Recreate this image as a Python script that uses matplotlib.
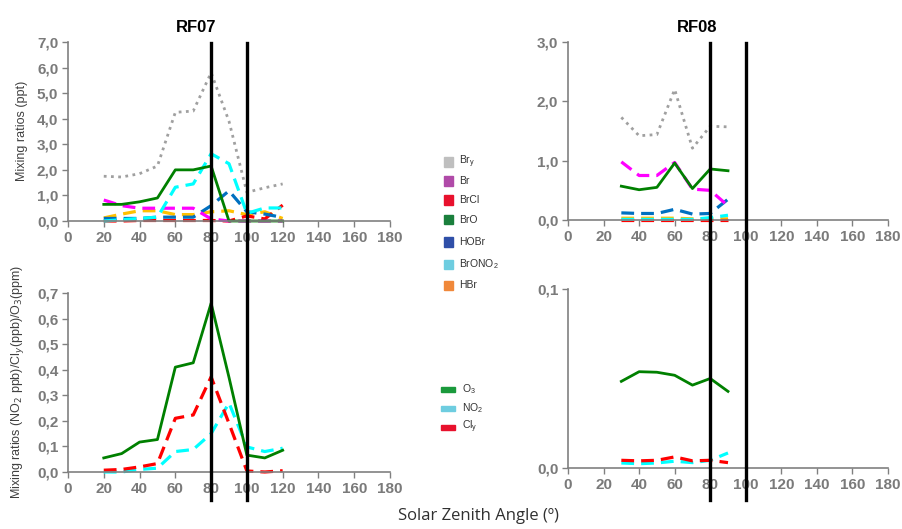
import matplotlib
matplotlib.use("Agg")
import matplotlib.pyplot as plt
from matplotlib.lines import Line2D
from matplotlib.patches import Rectangle
from matplotlib.transforms import blended_transform_factory

# ---- data ----
sza07 = [20, 30, 40, 50, 60, 70, 80, 90, 100, 110, 120]
bry07 = [1.75, 1.72, 1.85, 2.15, 4.25, 4.3, 5.8, 3.9, 1.12, 1.3, 1.45]
br07 = [0.82, 0.6, 0.5, 0.5, 0.5, 0.5, 0.08, 0.0, 0.0, 0.0, 0.0]
brcl07 = [0.0, 0.0, 0.02, 0.02, 0.02, 0.02, 0.02, 0.0, 0.2, 0.08, 0.62]
bro07 = [0.65, 0.65, 0.75, 0.9, 2.0, 2.0, 2.15, 0.0, 0.0, 0.0, 0.0]
hobr07 = [0.1, 0.1, 0.1, 0.15, 0.15, 0.15, 0.6, 1.18, 0.36, 0.27, 0.14]
brono2_07 = [0.0, 0.05, 0.1, 0.15, 1.32, 1.45, 2.63, 2.24, 0.3, 0.51, 0.51]
hbr07 = [0.12, 0.27, 0.4, 0.4, 0.25, 0.25, 0.36, 0.4, 0.25, 0.36, 0.1]

o3_07 = [0.055, 0.072, 0.117, 0.127, 0.41, 0.427, 0.66, 0.37, 0.066, 0.055, 0.085]
no2_07 = [0.0, 0.0, 0.01, 0.015, 0.08, 0.088, 0.15, 0.27, 0.098, 0.08, 0.093]
cly07 = [0.007, 0.01, 0.02, 0.033, 0.21, 0.223, 0.372, 0.19, 0.004, 0.0, 0.005]

sza08 = [30, 40, 50, 60, 70, 80, 90]
bry08 = [1.73, 1.42, 1.44, 2.2, 1.21, 1.58, 1.57]
br08 = [0.98, 0.75, 0.75, 0.97, 0.52, 0.5, 0.24]
brcl08 = [0.0, 0.0, 0.0, 0.0, 0.0, 0.0, 0.0]
bro08 = [0.57, 0.51, 0.55, 0.96, 0.53, 0.86, 0.83]
hobr08 = [0.12, 0.11, 0.11, 0.18, 0.1, 0.11, 0.35]
brono2_08 = [0.01, 0.01, 0.01, 0.01, 0.01, 0.04, 0.08]
hbr08 = [0.03, 0.03, 0.03, 0.03, 0.02, 0.02, 0.02]

o3_08 = [0.0484, 0.0538, 0.0535, 0.0518, 0.0463, 0.050, 0.0428]
no2_08 = [0.0028, 0.0024, 0.0028, 0.0038, 0.003, 0.0043, 0.0084]
cly08 = [0.0043, 0.004, 0.0043, 0.0062, 0.004, 0.0043, 0.003]

xticks = [0, 20, 40, 60, 80, 100, 120, 140, 160, 180]
sza_marks = [80, 100]

plt.rcParams['font.family'] = ['Liberation Sans', 'DejaVu Sans']

fig = plt.figure(figsize=(9.02, 5.29), dpi=100)
W, H = 902, 529


def make_ax(x0, x1, ytop, ybot):
    return fig.add_axes([x0 / W, 1 - ybot / H, (x1 - x0) / W, (ybot - ytop) / H])


ax_tl = make_ax(68, 390, 42, 221)
ax_tr = make_ax(568, 888, 42, 220)
ax_bl = make_ax(68, 390, 293, 472)
ax_br = make_ax(568, 888, 289, 468)

tick_col = '#7a7a7a'


def style(ax, ymax, yticks, fmt):
    ax.set_xlim(0, 180)
    ax.set_ylim(0, ymax)
    for s in ['top', 'right']:
        ax.spines[s].set_visible(False)
    for s in ['left', 'bottom']:
        ax.spines[s].set_color('#808080')
        ax.spines[s].set_linewidth(1.2)
    ax.set_xticks(xticks)
    ax.set_yticks(yticks)
    ax.set_yticklabels([fmt.format(v).replace('.', ',') for v in yticks])
    ax.tick_params(axis='both', colors='#808080', labelcolor=tick_col,
                   labelsize=11, length=4, width=1, pad=3)
    for lab in ax.get_xticklabels() + ax.get_yticklabels():
        lab.set_fontweight('bold')
    ax.set_facecolor('none')


style(ax_tl, 7.0, [0, 1, 2, 3, 4, 5, 6, 7], '{:.1f}')
style(ax_tr, 3.0, [0, 1, 2, 3], '{:.1f}')
style(ax_bl, 0.7, [0, 0.1, 0.2, 0.3, 0.4, 0.5, 0.6, 0.7], '{:.1f}')
style(ax_br, 0.1, [0, 0.1], '{:.1f}')

# top panels: bromine species
c_bry, c_br, c_brcl, c_bro = '#a0a0a0', '#ff00ff', '#ff0000', '#008000'
c_hobr, c_brono2, c_hbr = '#0070c0', '#00ffff', '#ffc000'
dash = (0, (4, 2.2))
for ax, x, d in [(ax_tl, sza07, (bry07, br07, brcl07, bro07, hobr07, brono2_07, hbr07)),
                 (ax_tr, sza08, (bry08, br08, brcl08, bro08, hobr08, brono2_08, hbr08))]:
    bry, br, brcl, bro, hobr, brono2, hbr = d
    ax.plot(x, hbr, color=c_hbr, lw=2.3, ls=dash, clip_on=False)
    ax.plot(x, brcl, color=c_brcl, lw=2.3, ls=dash, clip_on=False)
    ax.plot(x, hobr, color=c_hobr, lw=2.3, ls=dash, clip_on=False)
    ax.plot(x, br, color=c_br, lw=2.3, ls=dash, clip_on=False)
    ax.plot(x, brono2, color=c_brono2, lw=2.3, ls=dash, clip_on=False)
    ax.plot(x, bro, color=c_bro, lw=2.0, clip_on=False)
    ax.plot(x, bry, color=c_bry, lw=2.0, ls=(0, (1, 1.6)), clip_on=False)

# bottom panels: O3, NO2, Cly
for ax, x, o3, no2, cly in [(ax_bl, sza07, o3_07, no2_07, cly07),
                            (ax_br, sza08, o3_08, no2_08, cly08)]:
    ax.plot(x, no2, color=c_brono2, lw=2.3, ls=dash, clip_on=False)
    ax.plot(x, cly, color=c_brcl, lw=2.3, ls=dash, clip_on=False)
    ax.plot(x, o3, color=c_bro, lw=2.0, clip_on=False)

# vertical markers spanning both panels
for ax in [ax_tl, ax_tr]:
    tr = blended_transform_factory(ax.transData, fig.transFigure)
    for v in sza_marks:
        fig.add_artist(Line2D([v, v], [1 - 43 / H, 1 - 500 / H], transform=tr,
                              color='black', lw=2.4, zorder=5))

# titles and labels
fig.text(196 / W, 1 - 27 / H, 'RF07', ha='center', va='center',
         fontsize=12, fontweight='bold')
fig.text(697 / W, 1 - 27 / H, 'RF08', ha='center', va='center',
         fontsize=12, fontweight='bold')
fig.text(22 / W, 1 - 131 / H, 'Mixing ratios (ppt)', rotation=90,
         ha='center', va='center', fontsize=9, color='#404040')
fig.text(18 / W, 1 - 382 / H,
         'Mixing ratios (NO$_2$ ppb)/Cl$_y$(ppb)/O$_3$(ppm)', rotation=90,
         ha='center', va='center', fontsize=9, color='#404040')
fig.text(478 / W, 1 - 516 / H, 'Solar Zenith Angle (º)', ha='center',
         va='center', fontsize=12, color='#303030', family=['Open Sans', 'DejaVu Sans'])

# legends
leg_top = [('Br$_\\mathregular{y}$', '#bfbfbf', 162), ('Br', '#b04aa8', 181),
           ('BrCl', '#e8112d', 200), ('BrO', '#1a7f3c', 220),
           ('HOBr', '#2f4fa8', 242), ('BrONO$_\\mathregular{2}$', '#6ecde0', 264),
           ('HBr', '#f0883a', 285)]
for lab, col, yy in leg_top:
    fig.add_artist(Rectangle((444 / W, 1 - (yy + 4.5) / H), 9 / W, 9 / H,
                             transform=fig.transFigure, color=col))
    fig.text(459 / W, 1 - yy / H, lab, ha='left', va='center',
             fontsize=7.5, color='#333333')

leg_bot = [('O$_\\mathregular{3}$', '#1a9a3c', 389), ('NO$_\\mathregular{2}$', '#6ecde0', 408),
           ('Cl$_\\mathregular{y}$', '#e8112d', 427)]
for lab, col, yy in leg_bot:
    fig.add_artist(Rectangle((441 / W, 1 - (yy + 2.5) / H), 14 / W, 5 / H,
                             transform=fig.transFigure, color=col))
    fig.text(462 / W, 1 - yy / H, lab, ha='left', va='center',
             fontsize=7.5, color='#333333')

fig.savefig('out.png', dpi=100)
